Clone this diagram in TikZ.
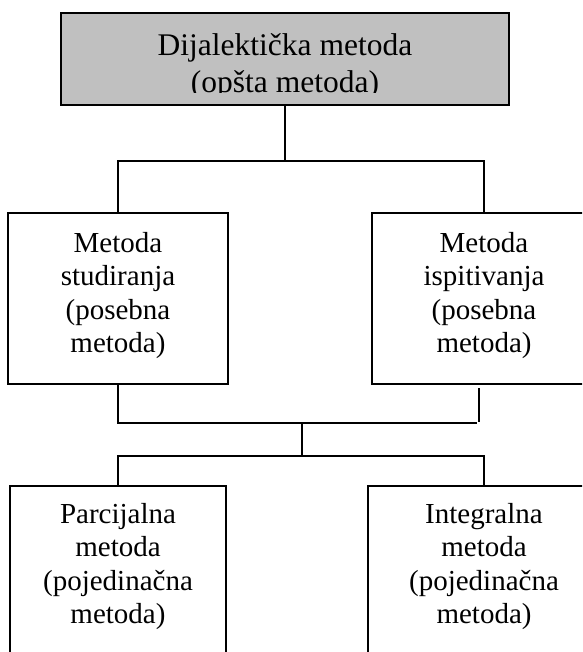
\documentclass[tikz,border=0pt]{standalone}
\usepackage{fontspec}
\setmainfont{Liberation Serif}
\usetikzlibrary{positioning}
\definecolor{sivo}{HTML}{C0C0C0}

\begin{document}
\begin{tikzpicture}[x=1pt, y=-1pt, line width=1.6pt,
    okvir/.style={draw, rectangle, inner sep=0pt},
    natpis/.style={anchor=north, align=center, inner sep=0pt,
        font=\fontsize{29}{33.5}\selectfont}]
    % --- Rahmen ---
    \useasboundingbox (0,0) rectangle (582,652);
    \clip (0,0) rectangle (582,652);

    % --- Opšta metoda (gore) ---
    \node[okvir, fill=sivo, minimum width=448pt, minimum height=92pt] (dijal) at (285,59) {};
    \begin{scope}
        \clip (61,13) rectangle (509,93);
        \node[natpis, font=\fontsize{31.5}{37}\selectfont, below=20.5pt of dijal.north] (dijalT)
            {Dijalektička metoda\\(opšta metoda)};
    \end{scope}

    % --- Posebne metode ---
    \node[okvir, minimum width=220pt, minimum height=171pt] (studij) at (118,298.5) {};
    \node[natpis, below=19pt of studij.north] (studijT) {Metoda\\studiranja\\(posebna\\metoda)};
    \node[okvir, minimum width=224pt, minimum height=171pt] (ispit) at (484,298.5) {};
    \node[natpis, below=19pt of ispit.north] (ispitT) {Metoda\\ispitivanja\\(posebna\\metoda)};

    % --- Pojedinačne metode ---
    \node[okvir, minimum width=216pt, minimum height=200pt] (parc) at (118,586) {};
    \node[natpis, below=17pt of parc.north] (parcT) {Parcijalna\\metoda\\(pojedinačna\\metoda)};
    \node[okvir, minimum width=232pt, minimum height=200pt] (integ) at (484,586) {};
    \node[natpis, below=17pt of integ.north] (integT) {Integralna\\metoda\\(pojedinačna\\metoda)};

    % --- Veze ---
    % gore -> posebne metode
    \coordinate (k1) at (285,161);
    \draw (dijal.south) -- (k1);
    \draw (studij.north) |- (k1) -| (ispit.north);
    % posebne metode -> sredina
    \coordinate (k2) at (477,423);
    \draw (studij.south) |- (k2);
    \coordinate (k2a) at (479,388);
    \coordinate (k2b) at (479,422);
    \draw (k2a) -- (k2b);
    % sredina -> pojedinačne metode
    \coordinate (k3) at (302,423);
    \coordinate (k4) at (302,456);
    \draw (k3) -- (k4);
    \draw (parc.north) |- (k4) -| (integ.north);
\end{tikzpicture}
\end{document}
